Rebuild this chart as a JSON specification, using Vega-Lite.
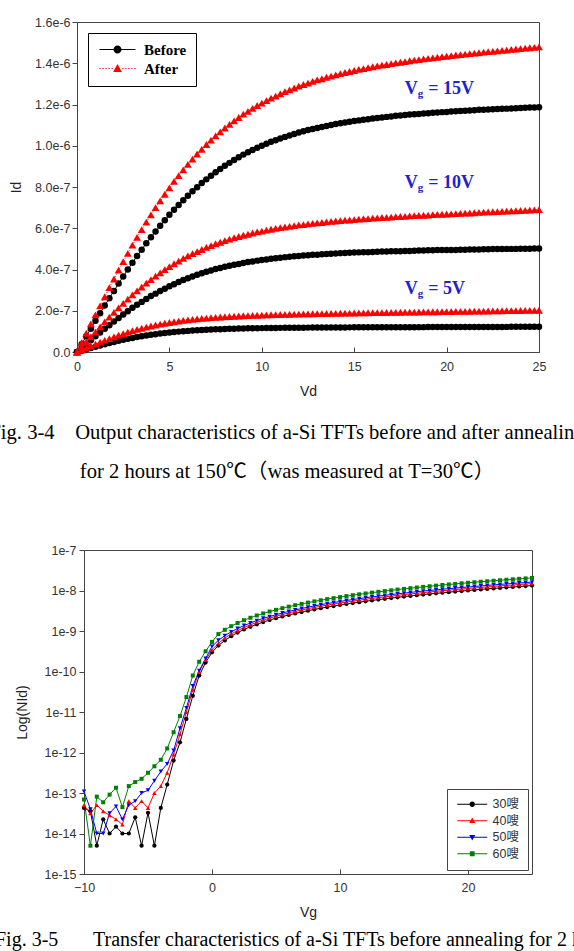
{
"$schema":"https://vega.github.io/schema/vega-lite/v6.json",
"autosize":{"type":"none"},
"padding":{"left":77,"top":22,"right":497,"bottom":929},
"background":"white",
"spacing":198,
"center":true,
"bounds":"flush",
"resolve":{"scale":{"color":"independent","shape":"independent"},"legend":{"color":"independent","shape":"independent"}},
"config":{
 "view":{"stroke":"#444","strokeWidth":1},
 "axis":{"grid":false,"domainColor":"#444","tickColor":"#444","labelColor":"#333","titleColor":"#222","labelFont":"Liberation Sans","titleFont":"Liberation Sans","labelFontSize":12.5,"titleFontSize":14,"titleFontWeight":"normal","domainWidth":1,"tickWidth":1,"labelFlush":false,"labelOverlap":false}
},
"vconcat":[
{
 "width":462,"height":330,
 "title":{"text":["Fig. 3-4\u00a0\u00a0\u00a0 Output characteristics of a-Si TFTs before and after annealing","for 2 hours at 150℃（was measured at T=30℃）"],"orient":"bottom","anchor":"middle","frame":"group","dx":-21,"offset":24,"font":"Liberation Serif, Noto Sans CJK SC","fontSize":20.6,"fontWeight":"normal","color":"#000","lineHeight":39},
 "data":{"values":[
{"Vd":0,"B5":0,"A5":0,"B10":0,"A10":0,"B15":0,"A15":0},
{"Vd":0.25,"B5":0.065e-7,"A5":0.098e-7,"B10":0.19e-7,"A10":0.25e-7,"B15":0.38e-7,"A15":0.45e-7},
{"Vd":0.5,"B5":0.130e-7,"A5":0.195e-7,"B10":0.38e-7,"A10":0.49e-7,"B15":0.76e-7,"A15":0.91e-7},
{"Vd":0.75,"B5":0.193e-7,"A5":0.290e-7,"B10":0.57e-7,"A10":0.74e-7,"B15":1.13e-7,"A15":1.36e-7},
{"Vd":1,"B5":0.256e-7,"A5":0.384e-7,"B10":0.76e-7,"A10":0.98e-7,"B15":1.51e-7,"A15":1.80e-7},
{"Vd":1.25,"B5":0.317e-7,"A5":0.477e-7,"B10":0.94e-7,"A10":1.22e-7,"B15":1.88e-7,"A15":2.24e-7},
{"Vd":1.5,"B5":0.377e-7,"A5":0.566e-7,"B10":1.13e-7,"A10":1.46e-7,"B15":2.25e-7,"A15":2.68e-7},
{"Vd":1.75,"B5":0.434e-7,"A5":0.652e-7,"B10":1.30e-7,"A10":1.69e-7,"B15":2.61e-7,"A15":3.12e-7},
{"Vd":2,"B5":0.489e-7,"A5":0.735e-7,"B10":1.48e-7,"A10":1.92e-7,"B15":2.96e-7,"A15":3.54e-7},
{"Vd":2.25,"B5":0.542e-7,"A5":0.815e-7,"B10":1.65e-7,"A10":2.14e-7,"B15":3.32e-7,"A15":3.97e-7},
{"Vd":2.5,"B5":0.592e-7,"A5":0.890e-7,"B10":1.82e-7,"A10":2.36e-7,"B15":3.66e-7,"A15":4.38e-7},
{"Vd":2.75,"B5":0.639e-7,"A5":0.962e-7,"B10":1.98e-7,"A10":2.56e-7,"B15":4.00e-7,"A15":4.78e-7},
{"Vd":3,"B5":0.683e-7,"A5":1.029e-7,"B10":2.14e-7,"A10":2.77e-7,"B15":4.33e-7,"A15":5.18e-7},
{"Vd":3.25,"B5":0.725e-7,"A5":1.093e-7,"B10":2.29e-7,"A10":2.96e-7,"B15":4.65e-7,"A15":5.56e-7},
{"Vd":3.5,"B5":0.764e-7,"A5":1.153e-7,"B10":2.43e-7,"A10":3.15e-7,"B15":4.96e-7,"A15":5.93e-7},
{"Vd":3.75,"B5":0.801e-7,"A5":1.208e-7,"B10":2.57e-7,"A10":3.34e-7,"B15":5.27e-7,"A15":6.30e-7},
{"Vd":4,"B5":0.834e-7,"A5":1.260e-7,"B10":2.71e-7,"A10":3.51e-7,"B15":5.56e-7,"A15":6.65e-7},
{"Vd":4.25,"B5":0.866e-7,"A5":1.309e-7,"B10":2.83e-7,"A10":3.68e-7,"B15":5.84e-7,"A15":7.00e-7},
{"Vd":4.5,"B5":0.895e-7,"A5":1.353e-7,"B10":2.96e-7,"A10":3.84e-7,"B15":6.12e-7,"A15":7.33e-7},
{"Vd":4.75,"B5":0.921e-7,"A5":1.394e-7,"B10":3.07e-7,"A10":3.99e-7,"B15":6.39e-7,"A15":7.65e-7},
{"Vd":5,"B5":0.946e-7,"A5":1.432e-7,"B10":3.19e-7,"A10":4.14e-7,"B15":6.65e-7,"A15":7.96e-7},
{"Vd":5.25,"B5":0.968e-7,"A5":1.467e-7,"B10":3.29e-7,"A10":4.28e-7,"B15":6.90e-7,"A15":8.27e-7},
{"Vd":5.5,"B5":0.988e-7,"A5":1.500e-7,"B10":3.39e-7,"A10":4.41e-7,"B15":7.13e-7,"A15":8.55e-7},
{"Vd":5.75,"B5":1.007e-7,"A5":1.530e-7,"B10":3.49e-7,"A10":4.54e-7,"B15":7.36e-7,"A15":8.83e-7},
{"Vd":6,"B5":1.024e-7,"A5":1.557e-7,"B10":3.58e-7,"A10":4.66e-7,"B15":7.58e-7,"A15":9.10e-7},
{"Vd":6.25,"B5":1.040e-7,"A5":1.582e-7,"B10":3.66e-7,"A10":4.77e-7,"B15":7.79e-7,"A15":9.35e-7},
{"Vd":6.5,"B5":1.054e-7,"A5":1.605e-7,"B10":3.74e-7,"A10":4.87e-7,"B15":7.99e-7,"A15":9.60e-7},
{"Vd":6.75,"B5":1.067e-7,"A5":1.627e-7,"B10":3.82e-7,"A10":4.97e-7,"B15":8.19e-7,"A15":9.83e-7},
{"Vd":7,"B5":1.079e-7,"A5":1.646e-7,"B10":3.89e-7,"A10":5.07e-7,"B15":8.37e-7,"A15":10.06e-7},
{"Vd":7.25,"B5":1.089e-7,"A5":1.664e-7,"B10":3.95e-7,"A10":5.16e-7,"B15":8.55e-7,"A15":10.27e-7},
{"Vd":7.5,"B5":1.099e-7,"A5":1.680e-7,"B10":4.02e-7,"A10":5.25e-7,"B15":8.72e-7,"A15":10.48e-7},
{"Vd":7.75,"B5":1.108e-7,"A5":1.696e-7,"B10":4.07e-7,"A10":5.32e-7,"B15":8.87e-7,"A15":10.67e-7},
{"Vd":8,"B5":1.116e-7,"A5":1.709e-7,"B10":4.13e-7,"A10":5.40e-7,"B15":9.03e-7,"A15":10.86e-7},
{"Vd":8.25,"B5":1.123e-7,"A5":1.722e-7,"B10":4.18e-7,"A10":5.47e-7,"B15":9.17e-7,"A15":11.04e-7},
{"Vd":8.5,"B5":1.129e-7,"A5":1.734e-7,"B10":4.23e-7,"A10":5.54e-7,"B15":9.31e-7,"A15":11.21e-7},
{"Vd":8.75,"B5":1.135e-7,"A5":1.746e-7,"B10":4.27e-7,"A10":5.60e-7,"B15":9.44e-7,"A15":11.37e-7},
{"Vd":9,"B5":1.141e-7,"A5":1.756e-7,"B10":4.32e-7,"A10":5.66e-7,"B15":9.57e-7,"A15":11.53e-7},
{"Vd":9.25,"B5":1.146e-7,"A5":1.765e-7,"B10":4.36e-7,"A10":5.71e-7,"B15":9.68e-7,"A15":11.67e-7},
{"Vd":9.5,"B5":1.150e-7,"A5":1.774e-7,"B10":4.39e-7,"A10":5.77e-7,"B15":9.79e-7,"A15":11.81e-7},
{"Vd":9.75,"B5":1.154e-7,"A5":1.783e-7,"B10":4.43e-7,"A10":5.82e-7,"B15":9.90e-7,"A15":11.95e-7},
{"Vd":10,"B5":1.158e-7,"A5":1.790e-7,"B10":4.46e-7,"A10":5.86e-7,"B15":10.00e-7,"A15":12.07e-7},
{"Vd":10.25,"B5":1.161e-7,"A5":1.798e-7,"B10":4.49e-7,"A10":5.91e-7,"B15":10.10e-7,"A15":12.19e-7},
{"Vd":10.5,"B5":1.165e-7,"A5":1.805e-7,"B10":4.52e-7,"A10":5.95e-7,"B15":10.19e-7,"A15":12.31e-7},
{"Vd":10.75,"B5":1.167e-7,"A5":1.811e-7,"B10":4.55e-7,"A10":5.99e-7,"B15":10.27e-7,"A15":12.41e-7},
{"Vd":11,"B5":1.170e-7,"A5":1.817e-7,"B10":4.57e-7,"A10":6.03e-7,"B15":10.35e-7,"A15":12.52e-7},
{"Vd":11.25,"B5":1.173e-7,"A5":1.824e-7,"B10":4.60e-7,"A10":6.06e-7,"B15":10.43e-7,"A15":12.62e-7},
{"Vd":11.5,"B5":1.175e-7,"A5":1.829e-7,"B10":4.62e-7,"A10":6.09e-7,"B15":10.50e-7,"A15":12.71e-7},
{"Vd":11.75,"B5":1.177e-7,"A5":1.835e-7,"B10":4.64e-7,"A10":6.13e-7,"B15":10.57e-7,"A15":12.80e-7},
{"Vd":12,"B5":1.179e-7,"A5":1.840e-7,"B10":4.66e-7,"A10":6.16e-7,"B15":10.64e-7,"A15":12.89e-7},
{"Vd":12.25,"B5":1.181e-7,"A5":1.845e-7,"B10":4.68e-7,"A10":6.18e-7,"B15":10.70e-7,"A15":12.97e-7},
{"Vd":12.5,"B5":1.182e-7,"A5":1.849e-7,"B10":4.69e-7,"A10":6.21e-7,"B15":10.76e-7,"A15":13.04e-7},
{"Vd":12.75,"B5":1.184e-7,"A5":1.854e-7,"B10":4.71e-7,"A10":6.24e-7,"B15":10.81e-7,"A15":13.12e-7},
{"Vd":13,"B5":1.185e-7,"A5":1.859e-7,"B10":4.72e-7,"A10":6.26e-7,"B15":10.86e-7,"A15":13.19e-7},
{"Vd":13.25,"B5":1.187e-7,"A5":1.863e-7,"B10":4.74e-7,"A10":6.28e-7,"B15":10.91e-7,"A15":13.25e-7},
{"Vd":13.5,"B5":1.188e-7,"A5":1.867e-7,"B10":4.75e-7,"A10":6.31e-7,"B15":10.96e-7,"A15":13.32e-7},
{"Vd":13.75,"B5":1.189e-7,"A5":1.871e-7,"B10":4.76e-7,"A10":6.33e-7,"B15":11.01e-7,"A15":13.38e-7},
{"Vd":14,"B5":1.190e-7,"A5":1.875e-7,"B10":4.78e-7,"A10":6.35e-7,"B15":11.05e-7,"A15":13.44e-7},
{"Vd":14.25,"B5":1.191e-7,"A5":1.879e-7,"B10":4.79e-7,"A10":6.37e-7,"B15":11.09e-7,"A15":13.50e-7},
{"Vd":14.5,"B5":1.193e-7,"A5":1.883e-7,"B10":4.80e-7,"A10":6.39e-7,"B15":11.13e-7,"A15":13.55e-7},
{"Vd":14.75,"B5":1.194e-7,"A5":1.887e-7,"B10":4.81e-7,"A10":6.40e-7,"B15":11.16e-7,"A15":13.60e-7},
{"Vd":15,"B5":1.195e-7,"A5":1.891e-7,"B10":4.82e-7,"A10":6.42e-7,"B15":11.20e-7,"A15":13.65e-7},
{"Vd":15.25,"B5":1.195e-7,"A5":1.894e-7,"B10":4.83e-7,"A10":6.44e-7,"B15":11.23e-7,"A15":13.70e-7},
{"Vd":15.5,"B5":1.196e-7,"A5":1.898e-7,"B10":4.84e-7,"A10":6.46e-7,"B15":11.26e-7,"A15":13.74e-7},
{"Vd":15.75,"B5":1.197e-7,"A5":1.902e-7,"B10":4.84e-7,"A10":6.47e-7,"B15":11.29e-7,"A15":13.79e-7},
{"Vd":16,"B5":1.198e-7,"A5":1.905e-7,"B10":4.85e-7,"A10":6.49e-7,"B15":11.32e-7,"A15":13.83e-7},
{"Vd":16.25,"B5":1.199e-7,"A5":1.909e-7,"B10":4.86e-7,"A10":6.50e-7,"B15":11.35e-7,"A15":13.87e-7},
{"Vd":16.5,"B5":1.200e-7,"A5":1.912e-7,"B10":4.87e-7,"A10":6.52e-7,"B15":11.37e-7,"A15":13.91e-7},
{"Vd":16.75,"B5":1.201e-7,"A5":1.916e-7,"B10":4.87e-7,"A10":6.53e-7,"B15":11.40e-7,"A15":13.94e-7},
{"Vd":17,"B5":1.201e-7,"A5":1.919e-7,"B10":4.88e-7,"A10":6.54e-7,"B15":11.42e-7,"A15":13.98e-7},
{"Vd":17.25,"B5":1.202e-7,"A5":1.923e-7,"B10":4.89e-7,"A10":6.56e-7,"B15":11.45e-7,"A15":14.02e-7},
{"Vd":17.5,"B5":1.203e-7,"A5":1.926e-7,"B10":4.89e-7,"A10":6.57e-7,"B15":11.47e-7,"A15":14.05e-7},
{"Vd":17.75,"B5":1.204e-7,"A5":1.930e-7,"B10":4.90e-7,"A10":6.58e-7,"B15":11.49e-7,"A15":14.08e-7},
{"Vd":18,"B5":1.204e-7,"A5":1.933e-7,"B10":4.90e-7,"A10":6.60e-7,"B15":11.51e-7,"A15":14.12e-7},
{"Vd":18.25,"B5":1.205e-7,"A5":1.936e-7,"B10":4.91e-7,"A10":6.61e-7,"B15":11.53e-7,"A15":14.15e-7},
{"Vd":18.5,"B5":1.206e-7,"A5":1.940e-7,"B10":4.92e-7,"A10":6.62e-7,"B15":11.54e-7,"A15":14.18e-7},
{"Vd":18.75,"B5":1.206e-7,"A5":1.943e-7,"B10":4.92e-7,"A10":6.63e-7,"B15":11.56e-7,"A15":14.21e-7},
{"Vd":19,"B5":1.207e-7,"A5":1.946e-7,"B10":4.93e-7,"A10":6.64e-7,"B15":11.58e-7,"A15":14.24e-7},
{"Vd":19.25,"B5":1.208e-7,"A5":1.950e-7,"B10":4.93e-7,"A10":6.66e-7,"B15":11.60e-7,"A15":14.26e-7},
{"Vd":19.5,"B5":1.208e-7,"A5":1.953e-7,"B10":4.94e-7,"A10":6.67e-7,"B15":11.61e-7,"A15":14.29e-7},
{"Vd":19.75,"B5":1.209e-7,"A5":1.956e-7,"B10":4.94e-7,"A10":6.68e-7,"B15":11.63e-7,"A15":14.32e-7},
{"Vd":20,"B5":1.210e-7,"A5":1.960e-7,"B10":4.94e-7,"A10":6.69e-7,"B15":11.64e-7,"A15":14.34e-7},
{"Vd":20.25,"B5":1.210e-7,"A5":1.963e-7,"B10":4.95e-7,"A10":6.70e-7,"B15":11.66e-7,"A15":14.37e-7},
{"Vd":20.5,"B5":1.211e-7,"A5":1.966e-7,"B10":4.95e-7,"A10":6.71e-7,"B15":11.67e-7,"A15":14.40e-7},
{"Vd":20.75,"B5":1.211e-7,"A5":1.970e-7,"B10":4.96e-7,"A10":6.72e-7,"B15":11.68e-7,"A15":14.42e-7},
{"Vd":21,"B5":1.212e-7,"A5":1.973e-7,"B10":4.96e-7,"A10":6.73e-7,"B15":11.70e-7,"A15":14.44e-7},
{"Vd":21.25,"B5":1.213e-7,"A5":1.976e-7,"B10":4.97e-7,"A10":6.74e-7,"B15":11.71e-7,"A15":14.47e-7},
{"Vd":21.5,"B5":1.213e-7,"A5":1.979e-7,"B10":4.97e-7,"A10":6.75e-7,"B15":11.72e-7,"A15":14.49e-7},
{"Vd":21.75,"B5":1.214e-7,"A5":1.983e-7,"B10":4.97e-7,"A10":6.77e-7,"B15":11.74e-7,"A15":14.51e-7},
{"Vd":22,"B5":1.215e-7,"A5":1.986e-7,"B10":4.98e-7,"A10":6.78e-7,"B15":11.75e-7,"A15":14.54e-7},
{"Vd":22.25,"B5":1.215e-7,"A5":1.989e-7,"B10":4.98e-7,"A10":6.79e-7,"B15":11.76e-7,"A15":14.56e-7},
{"Vd":22.5,"B5":1.216e-7,"A5":1.992e-7,"B10":4.99e-7,"A10":6.80e-7,"B15":11.77e-7,"A15":14.58e-7},
{"Vd":22.75,"B5":1.217e-7,"A5":1.996e-7,"B10":4.99e-7,"A10":6.81e-7,"B15":11.78e-7,"A15":14.60e-7},
{"Vd":23,"B5":1.217e-7,"A5":1.999e-7,"B10":4.99e-7,"A10":6.82e-7,"B15":11.79e-7,"A15":14.62e-7},
{"Vd":23.25,"B5":1.218e-7,"A5":2.002e-7,"B10":5.00e-7,"A10":6.83e-7,"B15":11.80e-7,"A15":14.64e-7},
{"Vd":23.5,"B5":1.219e-7,"A5":2.005e-7,"B10":5.00e-7,"A10":6.84e-7,"B15":11.81e-7,"A15":14.67e-7},
{"Vd":23.75,"B5":1.219e-7,"A5":2.009e-7,"B10":5.00e-7,"A10":6.85e-7,"B15":11.82e-7,"A15":14.69e-7},
{"Vd":24,"B5":1.220e-7,"A5":2.012e-7,"B10":5.01e-7,"A10":6.86e-7,"B15":11.83e-7,"A15":14.71e-7},
{"Vd":24.25,"B5":1.221e-7,"A5":2.015e-7,"B10":5.01e-7,"A10":6.87e-7,"B15":11.84e-7,"A15":14.73e-7},
{"Vd":24.5,"B5":1.221e-7,"A5":2.018e-7,"B10":5.01e-7,"A10":6.88e-7,"B15":11.85e-7,"A15":14.75e-7},
{"Vd":24.75,"B5":1.222e-7,"A5":2.022e-7,"B10":5.02e-7,"A10":6.89e-7,"B15":11.86e-7,"A15":14.77e-7},
{"Vd":25,"B5":1.223e-7,"A5":2.025e-7,"B10":5.02e-7,"A10":6.90e-7,"B15":11.87e-7,"A15":14.79e-7}
 ]},
 "encoding":{
  "x":{"field":"Vd","type":"quantitative","scale":{"domain":[0,25],"nice":false,"zero":false},"axis":{"values":[0,5,10,15,20,25],"title":"Vd","tickSize":-5,"labelPadding":13,"titlePadding":12}},
  "y":{"field":"Id","type":"quantitative","scale":{"domain":[0,1.6e-6],"nice":false},"axis":{"values":[0,2e-7,4e-7,6e-7,8e-7,1e-6,1.2e-6,1.4e-6,1.6e-6],"labelExpr":"datum.value == 0 ? '0.0' : format(datum.value, '.1e')","title":"Id","tickSize":5,"labelPadding":2,"titlePadding":11}}
 },
 "layer":[
  {"transform":[{"fold":["B5","B10","B15"],"as":["curve","Id"]}],
   "mark":{"type":"line","strokeWidth":1},
   "encoding":{"detail":{"field":"curve"},"color":{"datum":"Before","scale":{"domain":["Before","After"],"range":["#000000","#ff0000"]}}}},
  {"transform":[{"fold":["B5","B10","B15"],"as":["curve","Id"]}],
   "mark":{"type":"point","filled":true,"size":42,"opacity":1,"shape":"circle"},
   "encoding":{"color":{"datum":"Before"}}},
  {"transform":[{"fold":["A5","A10","A15"],"as":["curve","Id"]}],
   "mark":{"type":"line","strokeWidth":1,"strokeDash":[1,2]},
   "encoding":{"detail":{"field":"curve"},"color":{"datum":"After"}}},
  {"transform":[{"fold":["A5","A10","A15"],"as":["curve","Id"]}],
   "mark":{"type":"point","filled":true,"size":62,"opacity":1,"shape":"triangle-up"},
   "encoding":{"color":{"datum":"After"}}},
  {"data":{"values":[{"state":"Before","Vd":-50,"Id":0},{"state":"After","Vd":-50,"Id":0}]},
   "mark":{"type":"point","filled":true,"size":64,"opacity":1,"clip":true},
   "encoding":{
    "color":{"field":"state","type":"nominal","scale":{"domain":["Before","After"],"range":["#000000","#ff0000"]},
     "legend":{"orient":"top-left","offset":11,"title":null,"padding":9,"rowPadding":3,"strokeColor":"#000","fillColor":"#fff","cornerRadius":0,"labelFont":"Liberation Serif","labelFontSize":15,"labelFontWeight":"bold","labelColor":"#000","symbolSize":64,"symbolOffset":13,"labelOffset":19,"symbolOpacity":1,"symbolStrokeWidth":0}},
    "shape":{"field":"state","type":"nominal","scale":{"domain":["Before","After"],"range":["M-4.5,-0.13L4.5,-0.13L4.5,0.13L-4.5,0.13ZM-1,0A1,1,0,1,1,1,0A1,1,0,1,1,-1,0Z","M-4.5,-0.13L-4.2,-0.13L-4.2,0.13L-4.5,0.13ZM-3.75,-0.13L-3.45,-0.13L-3.45,0.13L-3.75,0.13ZM-3,-0.13L-2.7,-0.13L-2.7,0.13L-3,0.13ZM-2.25,-0.13L-1.95,-0.13L-1.95,0.13L-2.25,0.13ZM-1.5,-0.13L-1.2,-0.13L-1.2,0.13L-1.5,0.13ZM1.2,-0.13L1.5,-0.13L1.5,0.13L1.2,0.13ZM1.95,-0.13L2.25,-0.13L2.25,0.13L1.95,0.13ZM2.7,-0.13L3,-0.13L3,0.13L2.7,0.13ZM3.45,-0.13L3.75,-0.13L3.75,0.13L3.45,0.13ZM4.2,-0.13L4.5,-0.13L4.5,0.13L4.2,0.13ZM0,-1.15L1.1,0.85L-1.1,0.85Z"]},"legend":{"title":null}}}},
  {"data":{"values":[{"Vd":17.74,"Id":1.277e-6,"lab":"= 15V"},{"Vd":17.74,"Id":0.817e-6,"lab":"= 10V"},{"Vd":17.74,"Id":0.304e-6,"lab":"= 5V"}]},
   "mark":{"type":"text","text":"V","align":"left","baseline":"middle","font":"Liberation Serif","fontSize":18,"fontWeight":"bold","color":"#2222cc"}},
  {"data":{"values":[{"Vd":17.74,"Id":1.277e-6,"lab":"= 15V"},{"Vd":17.74,"Id":0.817e-6,"lab":"= 10V"},{"Vd":17.74,"Id":0.304e-6,"lab":"= 5V"}]},
   "mark":{"type":"text","text":"g","align":"left","baseline":"middle","dx":13,"dy":5,"font":"Liberation Serif","fontSize":11,"fontWeight":"bold","color":"#2222cc"}},
  {"data":{"values":[{"Vd":17.74,"Id":1.277e-6,"lab":"= 15V"},{"Vd":17.74,"Id":0.817e-6,"lab":"= 10V"},{"Vd":17.74,"Id":0.304e-6,"lab":"= 5V"}]},
   "mark":{"type":"text","align":"left","baseline":"middle","dx":23.5,"font":"Liberation Serif","fontSize":18,"fontWeight":"bold","color":"#2222cc"},
   "encoding":{"text":{"field":"lab"}}}
 ]
},
{
 "width":448,"height":324,
 "title":{"text":"Fig. 3-5\u00a0\u00a0\u00a0\u00a0\u00a0\u00a0 Transfer characteristics of a-Si TFTs before annealing for 2 hours","orient":"bottom","anchor":"start","frame":"group","dx":-89,"offset":10,"font":"Liberation Serif","fontSize":20,"fontWeight":"normal","color":"#000"},
 "data":{"values":[
{"Vg":-10,"c30":4.27e-14,"c40":5.01e-14,"c50":1.10e-13,"c60":6.92e-14},
{"Vg":-9.5,"c30":3.55e-14,"c40":3.16e-14,"c50":3.98e-14,"c60":5.0e-15},
{"Vg":-9,"c30":5.0e-15,"c40":5.01e-14,"c50":1.0e-14,"c60":8.13e-14},
{"Vg":-8.5,"c30":2.24e-14,"c40":3.55e-14,"c50":1.0e-14,"c60":5.89e-14},
{"Vg":-8,"c30":1.0e-14,"c40":2.82e-14,"c50":3.16e-14,"c60":9.12e-14},
{"Vg":-7.5,"c30":1.48e-14,"c40":2.24e-14,"c50":4.68e-14,"c60":1.35e-13},
{"Vg":-7,"c30":1.0e-14,"c40":1.66e-14,"c50":2.24e-14,"c60":4.47e-14},
{"Vg":-6.5,"c30":1.0e-14,"c40":6.31e-14,"c50":5.01e-14,"c60":1.48e-13},
{"Vg":-6,"c30":2.51e-14,"c40":4.27e-14,"c50":6.31e-14,"c60":1.86e-13},
{"Vg":-5.5,"c30":5.0e-15,"c40":6.31e-14,"c50":1.0e-13,"c60":2.24e-13},
{"Vg":-5,"c30":3.24e-14,"c40":4.27e-14,"c50":1.17e-13,"c60":3.16e-13},
{"Vg":-4.5,"c30":5.0e-15,"c40":1.0e-13,"c50":2.0e-13,"c60":4.57e-13},
{"Vg":-4,"c30":4.27e-14,"c40":1.48e-13,"c50":3.39e-13,"c60":6.61e-13},
{"Vg":-3.5,"c30":1.62e-13,"c40":3.16e-13,"c50":5.25e-13,"c60":1.26e-12},
{"Vg":-3,"c30":6.31e-13,"c40":8.91e-13,"c50":1.12e-12,"c60":3.16e-12},
{"Vg":-2.5,"c30":1.78e-12,"c40":2.82e-12,"c50":3.98e-12,"c60":7.94e-12},
{"Vg":-2,"c30":6.76e-12,"c40":1.0e-11,"c50":1.26e-11,"c60":2.34e-11},
{"Vg":-1.5,"c30":2.51e-11,"c40":3.55e-11,"c50":4.37e-11,"c60":7.94e-11},
{"Vg":-1,"c30":7.94e-11,"c40":1.0e-10,"c50":1.05e-10,"c60":1.74e-10},
{"Vg":-0.5,"c30":1.66e-10,"c40":1.91e-10,"c50":2.09e-10,"c60":3.16e-10},
{"Vg":0,"c30":2.98e-10,"c40":3.43e-10,"c50":4.17e-10,"c60":5.37e-10},
{"Vg":0.5,"c30":4.36e-10,"c40":4.97e-10,"c50":5.89e-10,"c60":8.38e-10},
{"Vg":1,"c30":5.85e-10,"c40":6.67e-10,"c50":7.66e-10,"c60":1.069e-9},
{"Vg":1.5,"c30":7.45e-10,"c40":8.49e-10,"c50":9.54e-10,"c60":1.315e-9},
{"Vg":2,"c30":9.12e-10,"c40":1.021e-9,"c50":1.149e-9,"c60":1.574e-9},
{"Vg":2.5,"c30":1.09e-9,"c40":1.221e-9,"c50":1.363e-9,"c60":1.845e-9},
{"Vg":3,"c30":1.27e-9,"c40":1.422e-9,"c50":1.575e-9,"c60":2.123e-9},
{"Vg":3.5,"c30":1.46e-9,"c40":1.635e-9,"c50":1.810e-9,"c60":2.415e-9},
{"Vg":4,"c30":1.66e-9,"c40":1.859e-9,"c50":2.058e-9,"c60":2.710e-9},
{"Vg":4.5,"c30":1.86e-9,"c40":2.083e-9,"c50":2.269e-9,"c60":3.02e-9},
{"Vg":5,"c30":2.07e-9,"c40":2.318e-9,"c50":2.525e-9,"c60":3.33e-9},
{"Vg":5.5,"c30":2.28e-9,"c40":2.554e-9,"c50":2.782e-9,"c60":3.66e-9},
{"Vg":6,"c30":2.49e-9,"c40":2.789e-9,"c50":3.038e-9,"c60":3.99e-9},
{"Vg":6.5,"c30":2.72e-9,"c40":3.046e-9,"c50":3.318e-9,"c60":4.33e-9},
{"Vg":7,"c30":2.94e-9,"c40":3.293e-9,"c50":3.587e-9,"c60":4.67e-9},
{"Vg":7.5,"c30":3.18e-9,"c40":3.562e-9,"c50":3.880e-9,"c60":5.02e-9},
{"Vg":8,"c30":3.41e-9,"c40":3.819e-9,"c50":4.160e-9,"c60":5.38e-9},
{"Vg":8.5,"c30":3.65e-9,"c40":4.088e-9,"c50":4.453e-9,"c60":5.74e-9},
{"Vg":9,"c30":3.89e-9,"c40":4.357e-9,"c50":4.746e-9,"c60":6.12e-9},
{"Vg":9.5,"c30":4.14e-9,"c40":4.637e-9,"c50":5.051e-9,"c60":6.49e-9},
{"Vg":10,"c30":4.39e-9,"c40":4.917e-9,"c50":5.356e-9,"c60":6.87e-9},
{"Vg":10.5,"c30":4.65e-9,"c40":5.208e-9,"c50":5.673e-9,"c60":7.26e-9},
{"Vg":11,"c30":4.90e-9,"c40":5.488e-9,"c50":5.978e-9,"c60":7.66e-9},
{"Vg":11.5,"c30":5.15e-9,"c40":5.768e-9,"c50":6.283e-9,"c60":8.05e-9},
{"Vg":12,"c30":5.42e-9,"c40":6.070e-9,"c50":6.612e-9,"c60":8.45e-9},
{"Vg":12.5,"c30":5.69e-9,"c40":6.373e-9,"c50":6.942e-9,"c60":8.87e-9},
{"Vg":13,"c30":5.96e-9,"c40":6.675e-9,"c50":7.271e-9,"c60":9.27e-9},
{"Vg":13.5,"c30":6.22e-9,"c40":6.966e-9,"c50":7.588e-9,"c60":9.68e-9},
{"Vg":14,"c30":6.50e-9,"c40":7.28e-9,"c50":7.93e-9,"c60":1.012e-8},
{"Vg":14.5,"c30":6.78e-9,"c40":7.594e-9,"c50":8.272e-9,"c60":1.054e-8},
{"Vg":15,"c30":7.06e-9,"c40":7.907e-9,"c50":8.613e-9,"c60":1.096e-8},
{"Vg":15.5,"c30":7.35e-9,"c40":8.232e-9,"c50":8.967e-9,"c60":1.140e-8},
{"Vg":16,"c30":7.64e-9,"c40":8.557e-9,"c50":9.321e-9,"c60":1.186e-8},
{"Vg":16.5,"c30":7.93e-9,"c40":8.882e-9,"c50":9.675e-9,"c60":1.230e-8},
{"Vg":17,"c30":8.22e-9,"c40":9.206e-9,"c50":1.003e-8,"c60":1.274e-8},
{"Vg":17.5,"c30":8.51e-9,"c40":9.531e-9,"c50":1.038e-8,"c60":1.318e-8},
{"Vg":18,"c30":8.81e-9,"c40":9.867e-9,"c50":1.075e-8,"c60":1.365e-8},
{"Vg":18.5,"c30":9.10e-9,"c40":1.019e-8,"c50":1.110e-8,"c60":1.409e-8},
{"Vg":19,"c30":9.42e-9,"c40":1.055e-8,"c50":1.149e-8,"c60":1.455e-8},
{"Vg":19.5,"c30":9.71e-9,"c40":1.088e-8,"c50":1.185e-8,"c60":1.503e-8},
{"Vg":20,"c30":1.000e-8,"c40":1.120e-8,"c50":1.220e-8,"c60":1.549e-8},
{"Vg":20.5,"c30":1.033e-8,"c40":1.157e-8,"c50":1.260e-8,"c60":1.600e-8},
{"Vg":21,"c30":1.064e-8,"c40":1.192e-8,"c50":1.298e-8,"c60":1.644e-8},
{"Vg":21.5,"c30":1.094e-8,"c40":1.225e-8,"c50":1.335e-8,"c60":1.694e-8},
{"Vg":22,"c30":1.127e-8,"c40":1.262e-8,"c50":1.375e-8,"c60":1.742e-8},
{"Vg":22.5,"c30":1.159e-8,"c40":1.298e-8,"c50":1.414e-8,"c60":1.791e-8},
{"Vg":23,"c30":1.191e-8,"c40":1.334e-8,"c50":1.453e-8,"c60":1.841e-8},
{"Vg":23.5,"c30":1.222e-8,"c40":1.369e-8,"c50":1.491e-8,"c60":1.888e-8},
{"Vg":24,"c30":1.256e-8,"c40":1.407e-8,"c50":1.532e-8,"c60":1.941e-8},
{"Vg":24.5,"c30":1.288e-8,"c40":1.443e-8,"c50":1.571e-8,"c60":1.991e-8},
{"Vg":25,"c30":1.321e-8,"c40":1.480e-8,"c50":1.612e-8,"c60":2.042e-8}
 ]},
 "encoding":{
  "x":{"field":"Vg","type":"quantitative","scale":{"domain":[-10,25],"nice":false,"zero":false},"axis":{"values":[-10,0,10,20],"title":"Vg","tickSize":-5,"labelPadding":12,"titlePadding":12}},
  "y":{"field":"Id","type":"quantitative","scale":{"type":"log","domain":[1e-15,1e-7],"nice":false},"axis":{"values":[1e-15,1e-14,1e-13,1e-12,1e-11,1e-10,1e-9,1e-8,1e-7],"labelExpr":"'1e' + round(log(datum.value)/LN10)","title":"Log(NId)","tickSize":5,"labelPadding":3,"titlePadding":15}},
  "color":{"field":"T","type":"nominal","scale":{"domain":["c30","c40","c50","c60"],"range":["#000000","#ff0000","#0000ff","#008000"]},
   "legend":{"orient":"bottom-right","offset":4,"title":null,"padding":9,"rowPadding":3.5,"strokeColor":"#444","fillColor":"#fff","cornerRadius":0,"labelFont":"Liberation Sans, Noto Sans CJK SC","labelFontSize":12.5,"labelColor":"#333","labelExpr":"slice(datum.label,1) + '嗖'","symbolSize":36,"symbolOffset":10,"labelOffset":14,"symbolOpacity":1,"symbolStrokeWidth":0}}
 },
 "layer":[
  {"transform":[{"fold":["c30","c40","c50","c60"],"as":["T","Id"]}],"mark":{"type":"line","strokeWidth":1}},
  {"transform":[{"fold":["c30","c40","c50","c60"],"as":["T","Id"]},{"filter":"datum.T === 'c30'"}],"mark":{"type":"point","filled":true,"size":18,"opacity":1,"shape":"circle"}},
  {"transform":[{"fold":["c30","c40","c50","c60"],"as":["T","Id"]},{"filter":"datum.T === 'c40'"}],"mark":{"type":"point","filled":true,"size":20,"opacity":1,"shape":"triangle-up"}},
  {"transform":[{"fold":["c30","c40","c50","c60"],"as":["T","Id"]},{"filter":"datum.T === 'c50'"}],"mark":{"type":"point","filled":true,"size":20,"opacity":1,"shape":"triangle-down"}},
  {"transform":[{"fold":["c30","c40","c50","c60"],"as":["T","Id"]},{"filter":"datum.T === 'c60'"}],"mark":{"type":"point","filled":true,"size":16,"opacity":1,"shape":"square"}},
  {"data":{"values":[{"T":"c30","Vg":-50,"Id":1e-14},{"T":"c40","Vg":-50,"Id":1e-14},{"T":"c50","Vg":-50,"Id":1e-14},{"T":"c60","Vg":-50,"Id":1e-14}]},
   "mark":{"type":"point","filled":true,"size":36,"opacity":1,"clip":true},
   "encoding":{"shape":{"field":"T","type":"nominal","scale":{"domain":["c30","c40","c50","c60"],"range":["M-5,-0.17L5,-0.17L5,0.17L-5,0.17ZM-0.9,0A0.9,0.9,0,1,1,0.9,0A0.9,0.9,0,1,1,-0.9,0Z","M-5,-0.17L5,-0.17L5,0.17L-5,0.17ZM0,-1.05L1,0.75L-1,0.75Z","M-5,-0.17L5,-0.17L5,0.17L-5,0.17ZM0,1.05L-1,-0.75L1,-0.75Z","M-5,-0.17L5,-0.17L5,0.17L-5,0.17ZM-0.8,-0.8L0.8,-0.8L0.8,0.8L-0.8,0.8Z"]},"legend":{"title":null}}}}
 ]
}
]
}
